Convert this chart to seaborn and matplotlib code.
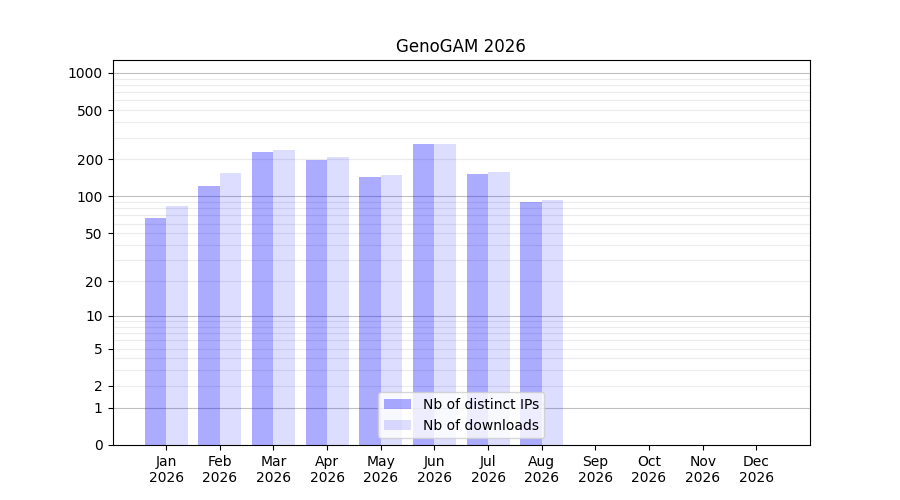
import numpy as np
import pandas as pd
import matplotlib
matplotlib.use('Agg')
import matplotlib.pyplot as plt
import seaborn as sns

months = ['Jan', 'Feb', 'Mar', 'Apr', 'May', 'Jun', 'Jul', 'Aug', 'Sep', 'Oct', 'Nov', 'Dec']
year = '2026'
distinct_ips = [67, 122, 229, 198, 144, 266, 152, 90, 0, 0, 0, 0]
downloads = [84, 155, 238, 209, 149, 267, 158, 93, 0, 0, 0, 0]
ytick_vals = [0, 1, 2, 5, 10, 20, 50, 100, 200, 500, 1000]

df = pd.DataFrame({
    'month': months * 2,
    'value': distinct_ips + downloads,
    'series': ['Nb of distinct IPs'] * 12 + ['Nb of downloads'] * 12,
})

plt.rcParams['font.family'] = ['DejaVu Sans']

fig, ax = plt.subplots(figsize=(9, 5), dpi=100)

# log(1+x) scale like the bioc stats pages
ax.set_yscale('function', functions=(lambda v: np.log10(1 + np.clip(v, 0, None)),
                                     lambda v: 10 ** v - 1))

# grid lines: darker at powers of ten, light in between
for k in range(3):
    for m in range(2, 10):
        ax.axhline(m * 10 ** k, color='#ebebeb', lw=0.8, zorder=0)
for p in [1, 10, 100, 1000]:
    ax.axhline(p, color='#c0c0c0', lw=0.8, zorder=0)

sns.barplot(data=df, x='month', y='value', hue='series',
            palette=['blue', 'blue'], width=0.8, saturation=1,
            errorbar=None, ax=ax, zorder=2, linewidth=0)

# translucent bars so the grid shows through
for cont, a in zip(ax.containers, [0.33, 0.133]):
    for bar in cont:
        bar.set_alpha(a)
        bar.set_edgecolor('none')

ax.set_xlim(-1, 12)
ax.set_ylim(0, 1273)
ax.set_yticks(ytick_vals)
ax.set_yticklabels([str(v) for v in ytick_vals])
ax.set_xticks(range(12))
ax.set_xticklabels([f'{m}\n{year}' for m in months])
ax.set_xlabel('')
ax.set_ylabel('')
ax.set_title('GenoGAM 2026')

h, l = ax.get_legend_handles_labels()
for hd, a in zip(h, [0.33, 0.133]):
    hd.set_alpha(a)
    hd.set_edgecolor('none')
ax.legend(h, l, loc='lower center')

plt.savefig('out.png', dpi=100)
